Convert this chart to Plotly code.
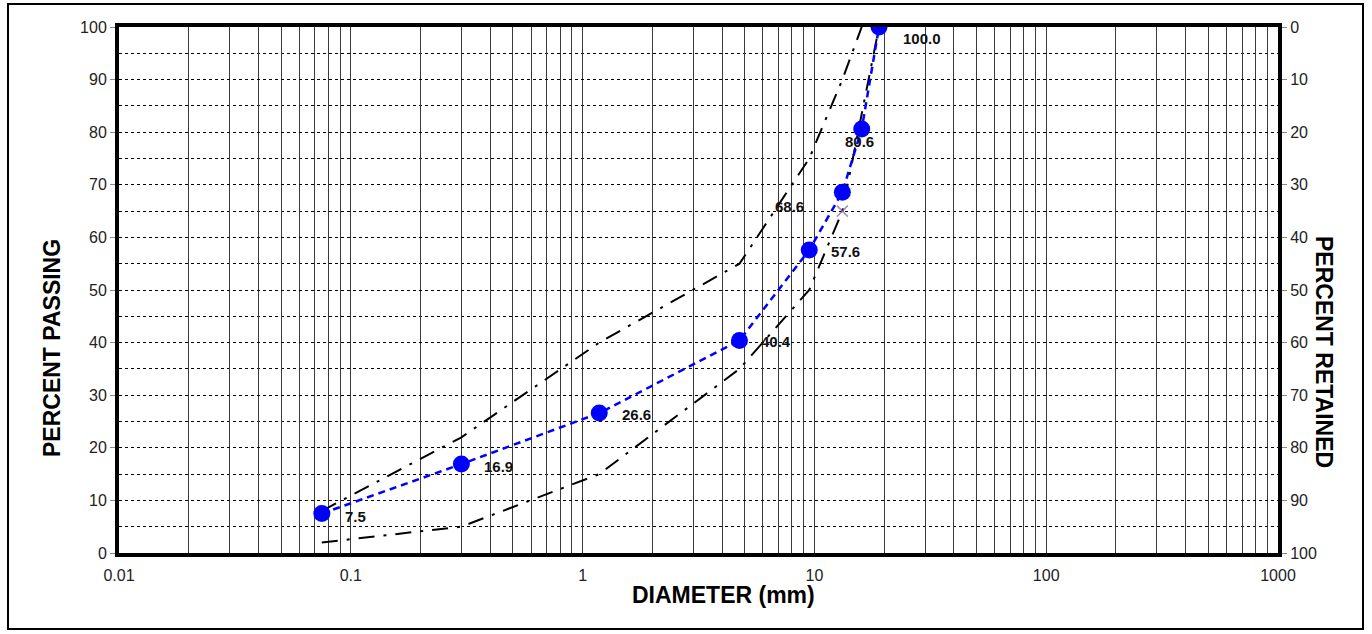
import math
import plotly.graph_objects as go

# ---- data ----
sieve_mm = [0.075, 0.3, 1.18, 4.75, 9.5, 13.2, 16, 19]
passing = [7.5, 16.9, 26.6, 40.4, 57.6, 68.6, 80.6, 100.0]

upper_mm = [0.075, 0.3, 1.18, 4.75, 9.5, 13.2, 16]
upper_pct = [8, 22, 40, 55, 75, 90, 100]

lower_mm = [0.075, 0.3, 1.18, 4.75, 9.5, 13.2, 19]
lower_pct = [2, 5, 15, 35, 50, 65, 100]
lower_marked = [False, False, False, False, False, True, False]

decades = [0.01, 0.1, 1, 10, 100]
x_major = [0.01, 0.1, 1, 10, 100, 1000]
x_major_labels = ["0.01", "0.1", "1", "10", "100", "1000"]

# label offsets (px) for each data label
label_dx = [34, 37, 37, 37, 36, -53, -2, 43]
label_dy = [-3, -2, -1, -1, -1, -14, -12, -11]

FONT = "Arial, Liberation Sans, sans-serif"

# grid tick values at 1..9 x each decade
x_tickvals = []
x_ticktext = []
for d in decades:
    for m in range(1, 10):
        v = round(d * m, 6)
        x_tickvals.append(v)
        x_ticktext.append(x_major_labels[x_major.index(v)] if v in x_major else "")
x_tickvals.append(1000)
x_ticktext.append("1000")

fig = go.Figure()

dashdot = "16px,9px,3px,9px"
fig.add_trace(go.Scatter(x=upper_mm, y=upper_pct, mode="lines",
                         line=dict(color="black", width=2, dash=dashdot),
                         showlegend=False, hoverinfo="skip"))
fig.add_trace(go.Scatter(x=lower_mm, y=lower_pct, mode="lines+markers",
                         line=dict(color="black", width=2, dash=dashdot),
                         marker=dict(symbol="x-thin",
                                     size=[11 if m else 0 for m in lower_marked],
                                     color="#7F60A0",
                                     line=dict(color="#7F60A0", width=1.5)),
                         showlegend=False, hoverinfo="skip"))
fig.add_trace(go.Scatter(x=sieve_mm, y=passing, mode="lines+markers",
                         line=dict(color="#0000FF", width=2.5, dash="7px,5px"),
                         marker=dict(color="#0000FF", size=17),
                         showlegend=False))
# retained axis companion (invisible)
fig.add_trace(go.Scatter(x=sieve_mm, y=[100 - p for p in passing], mode="none",
                         yaxis="y2", showlegend=False, hoverinfo="skip"))

for x, y, dx, dy in zip(sieve_mm, passing, label_dx, label_dy):
    fig.add_annotation(x=math.log10(x), y=y, xref="x", yref="y",
                       text=f"<b>{y:.1f}</b>",
                       showarrow=False, xshift=dx, yshift=dy,
                       font=dict(family=FONT, size=15, color="#111"))

L, R, T, B = 119, 94, 27, 81
W, H = 1372, 634
pw, ph = W - L - R, H - T - B

def px_x(px):
    return (px - L) / pw

def px_y(py):
    return (H - B - py) / ph

# axis titles
fig.add_annotation(x=px_x(723), y=px_y(610), xref="paper", yref="paper",
                   text="<b>DIAMETER (mm)</b>", showarrow=False,
                   font=dict(family=FONT, size=23, color="black"))
fig.add_annotation(x=px_x(37), y=px_y(348), xref="paper", yref="paper",
                   text="<b>PERCENT PASSING</b>", showarrow=False, textangle=-90,
                   font=dict(family=FONT, size=23, color="black"))
fig.add_annotation(x=px_x(1339), y=px_y(352), xref="paper", yref="paper",
                   text="<b>PERCENT RETAINED</b>", showarrow=False, textangle=90,
                   font=dict(family=FONT, size=23, color="black"))

# outer chart border
fig.add_shape(type="rect", xref="paper", yref="paper",
              x0=px_x(8), x1=px_x(1363), y0=px_y(629), y1=px_y(4),
              line=dict(color="black", width=2), layer="below")

fig.update_layout(
    width=W, height=H,
    margin=dict(l=L, r=R, t=T, b=B),
    paper_bgcolor="white", plot_bgcolor="white",
    font=dict(family=FONT, size=16, color="#222"),
    xaxis=dict(type="log", range=[-2, 3], tickmode="array",
               tickvals=x_tickvals, ticktext=x_ticktext,
               showgrid=True, gridcolor="#3a3a3a", gridwidth=1,
               showline=True, linecolor="black", linewidth=4, mirror=True,
               ticks="", zeroline=False, ticklabelstandoff=5,
               tickfont=dict(family=FONT, size=16, color="#222")),
    yaxis=dict(range=[0, 100], dtick=10, tick0=0,
               showgrid=True, gridcolor="black", gridwidth=1, griddash="dot",
               minor=dict(dtick=5, showgrid=True, gridcolor="black",
                          griddash="dot", gridwidth=1),
               showline=True, linecolor="black", linewidth=4, mirror=True,
               ticks="outside", ticklen=5, tickcolor="#888",
               zeroline=False,
               tickfont=dict(family=FONT, size=16, color="#222")),
    yaxis2=dict(range=[100, 0], dtick=10, tick0=0, overlaying="y", side="right",
                anchor="x", showgrid=False, zeroline=False,
                showline=True, linecolor="black", linewidth=4,
                ticks="outside", ticklen=5, tickcolor="#888",
                tickfont=dict(family=FONT, size=16, color="#222")),
)

fig.write_html("out.html")
